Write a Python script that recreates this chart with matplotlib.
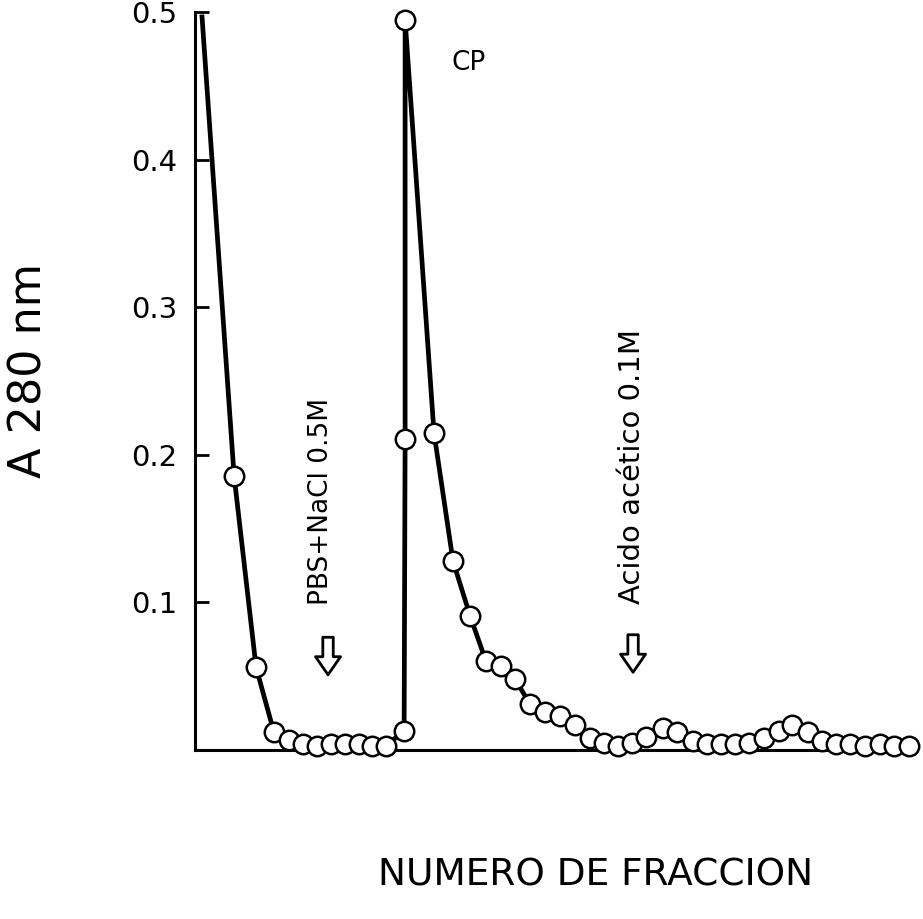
import matplotlib
matplotlib.use("Agg")
import matplotlib.pyplot as plt

# Fraction number (estimated) and absorbance at 280 nm
fraction = [0.49, 2.73, 4.27, 5.52, 6.57, 7.55, 8.53, 9.51, 10.49, 11.47,
            12.38, 13.36, 14.62, 14.69, 14.69, 16.71, 18.04, 19.23, 20.35, 21.40,
            22.38, 23.43, 24.48, 25.52, 26.57, 27.62, 28.60, 29.58, 30.56, 31.54,
            32.73, 33.71, 34.83, 35.80, 36.78, 37.76, 38.74, 39.79, 40.84, 41.75,
            42.87, 43.85, 44.83, 45.80, 46.85, 47.90, 48.88, 49.93]
absorbance = [0.497, 0.186, 0.056, 0.012, 0.007, 0.004, 0.003, 0.004, 0.004, 0.004,
              0.003, 0.003, 0.013, 0.211, 0.495, 0.215, 0.128, 0.091, 0.060, 0.057,
              0.048, 0.031, 0.026, 0.023, 0.017, 0.008, 0.005, 0.003, 0.005, 0.009,
              0.015, 0.012, 0.006, 0.004, 0.004, 0.004, 0.005, 0.008, 0.013, 0.017,
              0.012, 0.006, 0.004, 0.004, 0.003, 0.004, 0.003, 0.003]

yticks = [0.1, 0.2, 0.3, 0.4, 0.5]
ytick_labels = ["0.1", "0.2", "0.3", "0.4", "0.5"]

fig = plt.figure(figsize=(9.23, 9.19), dpi=100)
ax = fig.add_axes([0.2113, 0.1839, 0.7747, 0.8025])

ax.plot(fraction, absorbance, color="black", lw=3.4, marker="o",
        markersize=14, markerfacecolor="white", markeredgecolor="black",
        markeredgewidth=1.8, markevery=list(range(1, len(fraction))),
        clip_on=False, zorder=3)

ax.set_xlim(0, 50)
ax.set_ylim(0, 0.5)
ax.set_yticks(yticks)
ax.set_yticklabels(ytick_labels, fontsize=21)
ax.set_xticks([])
ax.tick_params(axis="y", direction="in", length=10, width=2, pad=13)
for s in ["top", "right"]:
    ax.spines[s].set_visible(False)
for s in ["left", "bottom"]:
    ax.spines[s].set_linewidth(2.2)

ax.text(19.16, 0.466, "CP", fontsize=19, ha="center", va="center")
ax.text(8.81, 0.098, "PBS+NaCl 0.5M", fontsize=19, rotation=90,
        ha="center", va="bottom")
ax.text(30.56, 0.099, "Acido acético 0.1M", fontsize=21, rotation=90,
        ha="center", va="bottom")

arrow_style = "simple,head_length=13,head_width=18,tail_width=7.5"
for xa, ya in [(9.30, 0.051), (30.63, 0.0527)]:
    ax.annotate("", xy=(xa, ya), xytext=(0, 27), textcoords="offset points",
                arrowprops=dict(arrowstyle=arrow_style, mutation_scale=1,
                                fc="white", ec="black", lw=2,
                                shrinkA=0, shrinkB=0))

fig.text(29 / 923, 1 - 370 / 919, "A 280 nm", fontsize=32, rotation=90,
         ha="center", va="center")
fig.text(596 / 923, 1 - 875 / 919, "NUMERO DE FRACCION", fontsize=27,
         ha="center", va="center")

fig.savefig("out.png", dpi=100)
